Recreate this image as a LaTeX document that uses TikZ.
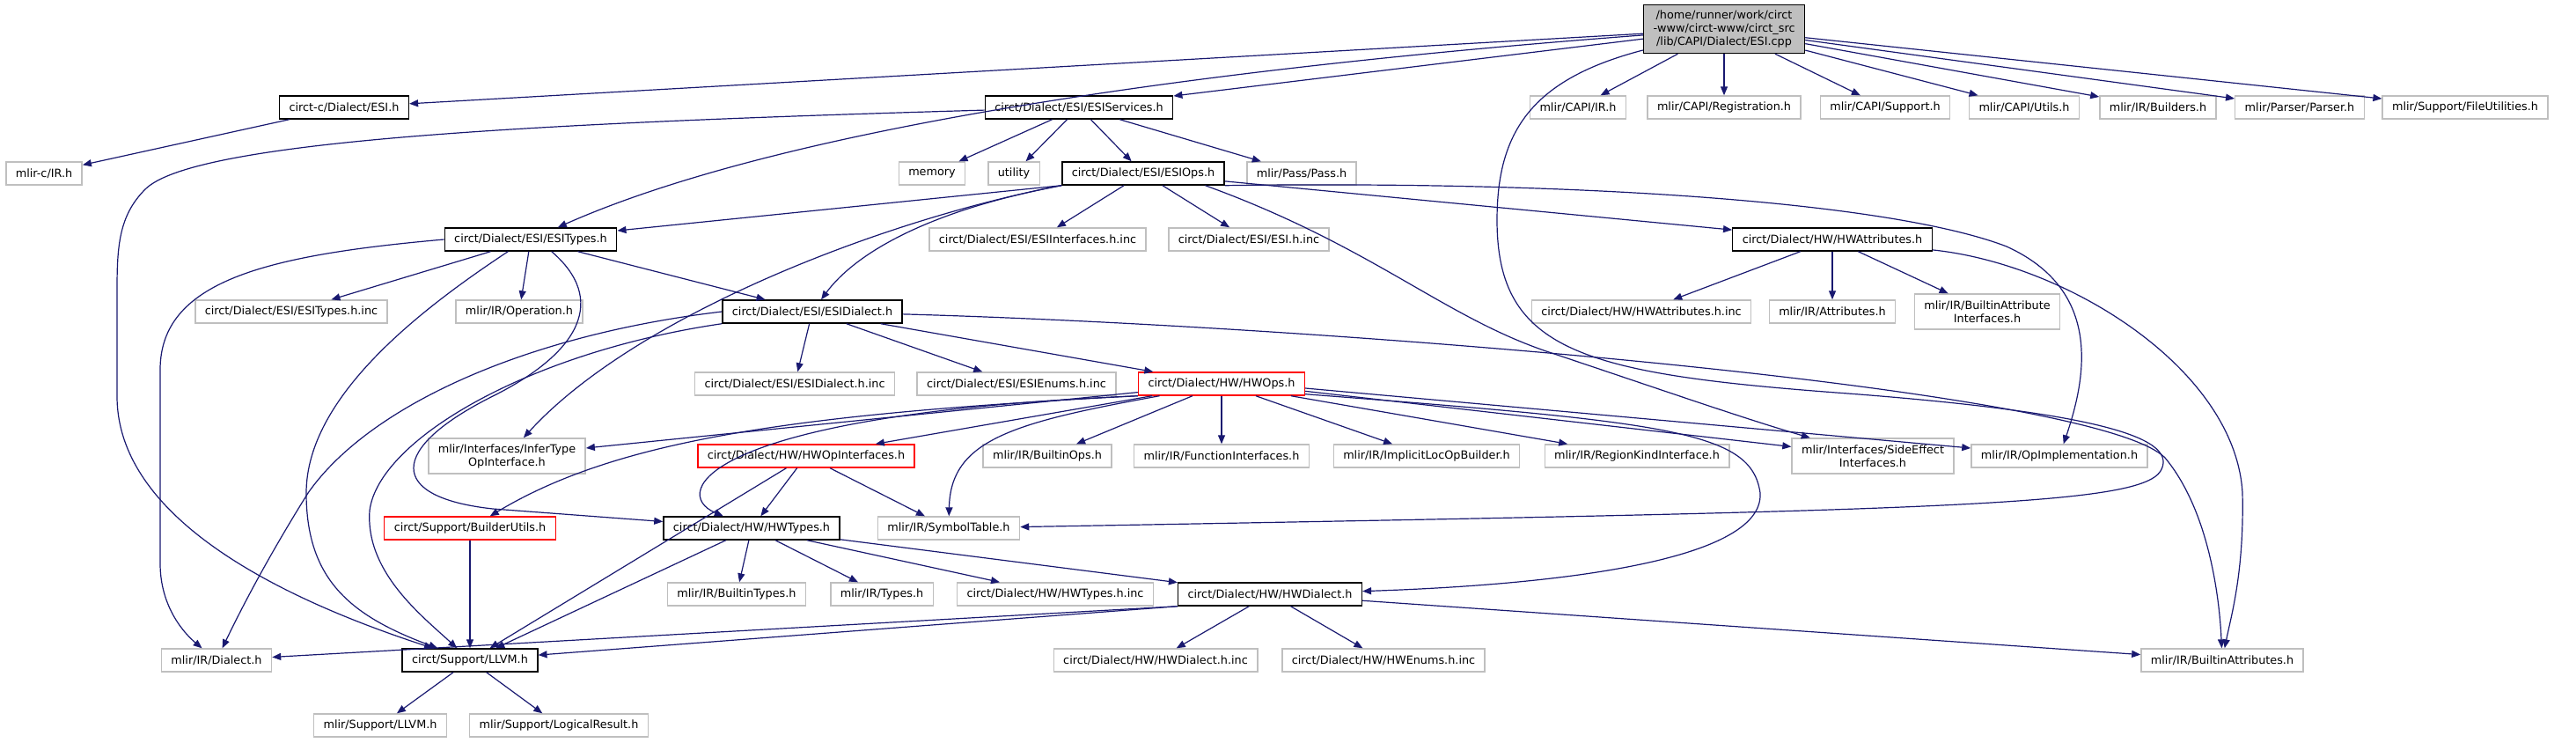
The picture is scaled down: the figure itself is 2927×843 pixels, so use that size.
\documentclass[tikz,border=0pt]{standalone}
\usepackage{fontspec}
\setmainfont{DejaVu Sans}
\usetikzlibrary{arrows.meta}
\definecolor{edgeblue}{RGB}{25,25,112}
\definecolor{boxgray}{RGB}{191,191,191}

\begin{document}
\begin{tikzpicture}[
    x=0.5pt, y=-0.5pt,
    file/.style={rectangle, draw=boxgray, line width=0.7pt, fill=white, font=\fontsize{6.4}{7.5}\selectfont, align=center, inner xsep=5.5pt, inner ysep=1.5pt, minimum height=13pt},
    doc/.style={file, draw=black},
    trunc/.style={file, draw=red},
    root/.style={file, draw=black, fill=boxgray, minimum height=27.5pt},
    twoline/.style={minimum height=20pt},
    edge/.style={-{Triangle[length=5pt, width=4pt]}, draw=edgeblue, line width=0.6pt}
]
\useasboundingbox (0,0) rectangle (2927,843);

\node[root] (main) at (1959,33) {/home/runner/work/circt\\-www/circt-www/circt\_src\\/lib/CAPI/Dialect/ESI.cpp};

\node[doc] (esic) at (391,122) {circt-c/Dialect/ESI.h};
\node[doc] (esiservices) at (1226,122) {circt/Dialect/ESI/ESIServices.h};
\node[file] (capiir) at (1793,122) {mlir/CAPI/IR.h};
\node[file] (capireg) at (1959,122) {mlir/CAPI/Registration.h};
\node[file] (capisup) at (2142,122) {mlir/CAPI/Support.h};
\node[file] (capiutils) at (2300,122) {mlir/CAPI/Utils.h};
\node[file] (builders) at (2452,122) {mlir/IR/Builders.h};
\node[file] (parser) at (2613,122) {mlir/Parser/Parser.h};
\node[file] (fileutil) at (2801,122) {mlir/Support/FileUtilities.h};

\node[file] (mlirc) at (50,197) {mlir-c/IR.h};
\node[file] (memory) at (1059,197) {memory};
\node[file] (utility) at (1152,197) {utility};
\node[doc] (esiops) at (1299,197) {circt/Dialect/ESI/ESIOps.h};
\node[file] (pass) at (1479,197) {mlir/Pass/Pass.h};

\node[doc] (esitypes) at (603,272) {circt/Dialect/ESI/ESITypes.h};
\node[file] (esiifinc) at (1179,272) {circt/Dialect/ESI/ESIInterfaces.h.inc};
\node[file] (esihinc) at (1419,272) {circt/Dialect/ESI/ESI.h.inc};
\node[doc] (hwattrs) at (2082,272) {circt/Dialect/HW/HWAttributes.h};

\node[file] (esitypesinc) at (331,354) {circt/Dialect/ESI/ESITypes.h.inc};
\node[file] (operation) at (590,354) {mlir/IR/Operation.h};
\node[doc] (esidialect) at (923,354) {circt/Dialect/ESI/ESIDialect.h};
\node[file] (hwattrsinc) at (1865,354) {circt/Dialect/HW/HWAttributes.h.inc};
\node[file] (attributes) at (2082,354) {mlir/IR/Attributes.h};
\node[file, twoline] (builtinattrif) at (2258,354) {mlir/IR/BuiltinAttribute\\Interfaces.h};

\node[file] (esidialectinc) at (903,436) {circt/Dialect/ESI/ESIDialect.h.inc};
\node[file] (esienums) at (1155,436) {circt/Dialect/ESI/ESIEnums.h.inc};
\node[trunc] (hwops) at (1388,436) {circt/Dialect/HW/HWOps.h};

\node[file, twoline] (infertype) at (576,518) {mlir/Interfaces/InferType\\OpInterface.h};
\node[trunc] (hwopif) at (916,518) {circt/Dialect/HW/HWOpInterfaces.h};
\node[file] (builtinops) at (1190,518) {mlir/IR/BuiltinOps.h};
\node[file] (funcif) at (1388,518) {mlir/IR/FunctionInterfaces.h};
\node[file] (implicitloc) at (1621,518) {mlir/IR/ImplicitLocOpBuilder.h};
\node[file] (regionkind) at (1860,518) {mlir/IR/RegionKindInterface.h};
\node[file, twoline] (sideeffect) at (2128,518) {mlir/Interfaces/SideEffect\\Interfaces.h};
\node[file] (opimpl) at (2340,518) {mlir/IR/OpImplementation.h};

\node[trunc] (builderutils) at (534,600) {circt/Support/BuilderUtils.h};
\node[doc] (hwtypes) at (854,600) {circt/Dialect/HW/HWTypes.h};
\node[file] (symboltable) at (1078,600) {mlir/IR/SymbolTable.h};

\node[file] (builtintypes) at (837,675) {mlir/IR/BuiltinTypes.h};
\node[file] (types) at (1002,675) {mlir/IR/Types.h};
\node[file] (hwtypesinc) at (1199,675) {circt/Dialect/HW/HWTypes.h.inc};
\node[doc] (hwdialect) at (1443,675) {circt/Dialect/HW/HWDialect.h};

\node[file] (dialect) at (246,750) {mlir/IR/Dialect.h};
\node[doc] (llvm) at (534,750) {circt/Support/LLVM.h};
\node[file] (hwdialectinc) at (1313,750) {circt/Dialect/HW/HWDialect.h.inc};
\node[file] (hwenums) at (1572,750) {circt/Dialect/HW/HWEnums.h.inc};
\node[file] (builtinattrs) at (2525,750) {mlir/IR/BuiltinAttributes.h};

\node[file] (supllvm) at (432,824) {mlir/Support/LLVM.h};
\node[file] (logical) at (635,824) {mlir/Support/LogicalResult.h};

\draw[edge] (main) -- (esic);
\draw[edge] (main) .. controls (1400,75) and (900,140) .. (esitypes);
\draw[edge] (main) -- (esiservices);
\draw[edge] (main) .. controls (1740,90) and (1701,150) .. (1701,250) .. controls (1701,400) and (1800,425) .. (2100,447) .. controls (2400,470) and (2475,500) .. (2455,535) .. controls (2430,575) and (2200,580) .. (symboltable);
\draw[edge] (main) -- (capiir);
\draw[edge] (main) -- (capireg);
\draw[edge] (main) -- (capisup);
\draw[edge] (main) -- (capiutils);
\draw[edge] (main) -- (builders);
\draw[edge] (main) -- (parser);
\draw[edge] (main) -- (fileutil);

\draw[edge] (esic) -- (mlirc);

\draw[edge] (esiservices) -- (memory);
\draw[edge] (esiservices) -- (utility);
\draw[edge] (esiservices) -- (esiops);
\draw[edge] (esiservices) -- (pass);
\draw[edge] (esiservices) .. controls (600,140) and (220,160) .. (165,215) .. controls (135,245) and (133,280) .. (133,330) -- (133,450) .. controls (133,600) and (350,690) .. (llvm);

\draw[edge] (esiops.south west) -- (esitypes);
\draw[edge] (esiops.south west) .. controls (1050,240) and (970,290) .. (esidialect);
\draw[edge] (esiops.south west) .. controls (1000,250) and (720,360) .. (infertype);
\draw[edge] (esiops) -- (esiifinc);
\draw[edge] (esiops) -- (esihinc);
\draw[edge] (esiops.-11) .. controls (1560,280) and (1640,360) .. (1760,400) .. controls (1880,440) and (1980,475) .. (sideeffect);
\draw[edge] (esiops.south east) .. controls (1800,205) and (2150,230) .. (2280,280) .. controls (2390,330) and (2370,430) .. (opimpl);
\draw[edge] (esiops) -- (hwattrs);

\draw[edge] (hwattrs) -- (hwattrsinc);
\draw[edge] (hwattrs) -- (attributes);
\draw[edge] (hwattrs) -- (builtinattrif);
\draw[edge] (hwattrs) .. controls (2350,300) and (2540,420) .. (2548,560) .. controls (2550,650) and (2535,700) .. (builtinattrs);

\draw[edge] (esitypes) -- (esitypesinc);
\draw[edge] (esitypes) -- (operation);
\draw[edge] (esitypes) -- (esidialect);
\draw[edge] (esitypes.west) .. controls (300,290) and (182,320) .. (182,420) -- (182,640) .. controls (182,690) and (210,720) .. (dialect);
\draw[edge] (esitypes.-152) .. controls (480,350) and (348,450) .. (348,560) .. controls (348,660) and (400,700) .. (llvm);
\draw[edge] (esitypes.-30) .. controls (690,340) and (660,400) .. (560,450) .. controls (440,510) and (440,565) .. (560,578) -- (hwtypes);

\draw[edge] (esidialect.west) .. controls (600,380) and (420,460) .. (350,560) .. controls (300,640) and (270,700) .. (dialect);
\draw[edge] (esidialect.south west) .. controls (600,400) and (430,500) .. (420,580) .. controls (415,650) and (480,700) .. (llvm);
\draw[edge] (esidialect) -- (esidialectinc);
\draw[edge] (esidialect) -- (esienums);
\draw[edge] (esidialect) -- (hwops);
\draw[edge] (esidialect) .. controls (1500,370) and (2380,440) .. (2460,520) .. controls (2510,580) and (2522,680) .. (builtinattrs);

\draw[edge] (hwops) -- (infertype);
\draw[edge] (hwops) -- (hwopif);
\draw[edge] (hwops.south west) .. controls (900,470) and (700,500) .. (builderutils);
\draw[edge] (hwops.south west) .. controls (800,470) and (760,560) .. (hwtypes);
\draw[edge] (hwops.-169) .. controls (1150,480) and (1080,500) .. (symboltable);
\draw[edge] (hwops) -- (builtinops);
\draw[edge] (hwops) -- (funcif);
\draw[edge] (hwops) -- (implicitloc);
\draw[edge] (hwops) -- (regionkind);
\draw[edge] (hwops.-5) -- (sideeffect);
\draw[edge] (hwops.-3) -- (opimpl);
\draw[edge] (hwops.-7) .. controls (1900,480) and (1990,490) .. (2000,560) .. controls (2005,640) and (1750,665) .. (hwdialect);

\draw[edge] (hwopif) -- (hwtypes);
\draw[edge] (hwopif) -- (llvm);
\draw[edge] (hwopif) -- (symboltable);

\draw[edge] (builderutils) -- (llvm);

\draw[edge] (hwtypes) -- (llvm);
\draw[edge] (hwtypes) -- (builtintypes);
\draw[edge] (hwtypes) -- (types);
\draw[edge] (hwtypes) -- (hwtypesinc);
\draw[edge] (hwtypes) -- (hwdialect);

\draw[edge] (hwdialect.south west) -- (dialect);
\draw[edge] (hwdialect.south west) -- (llvm);
\draw[edge] (hwdialect) -- (hwdialectinc);
\draw[edge] (hwdialect) -- (hwenums);
\draw[edge] (hwdialect) -- (builtinattrs);

\draw[edge] (llvm) -- (supllvm);
\draw[edge] (llvm) -- (logical);

\end{tikzpicture}
\end{document}
